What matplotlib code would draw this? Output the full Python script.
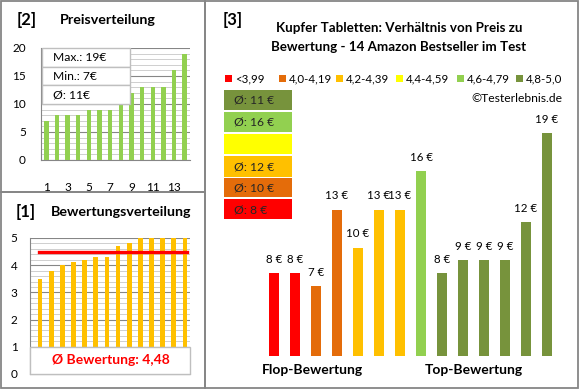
import numpy as np
import matplotlib
matplotlib.use("Agg")
import matplotlib.pyplot as plt
from matplotlib.patches import Rectangle

plt.rcParams['font.family'] = ['Lato', 'DejaVu Sans']

### DATA
# prices / ratings of the 14 products, in the order of chart [3]
prices = [8, 8, 7, 13, 10, 13, 13, 16, 8, 9, 9, 9, 12, 19]
ratings = [3.5, 3.8, 4.0, 4.1, 4.2, 4.3, 4.3, 4.7, 4.8, 5.0, 5.0, 5.0, 5.0, 5.0]
price_sorted = sorted(prices)
rating_sorted = sorted(ratings)
avg_rating_label = "4,48"

bin_labels = ["<3,99", "4,0-4,19", "4,2-4,39", "4,4-4,59", "4,6-4,79", "4,8-5,0"]
bin_edges = [0, 4.0, 4.2, 4.4, 4.6, 4.8, 5.01]
bin_colors = ["#FF0000", "#E46C0A", "#FFC000", "#FFFF00", "#92D050", "#77933C"]
x_ticks_price = [1, 3, 5, 7, 9, 11, 13]

W, H = 580, 390
GRAY = "#868686"
LIGHT = "#C8C8C8"

fig = plt.figure(figsize=(W / 100, H / 100), dpi=100)


def ax_px(x0, y0, x1, y1):
    return fig.add_axes([x0 / W, 1 - y1 / H, (x1 - x0) / W, (y1 - y0) / H])


def box(x0, y0, x1, y1, fc="none", ec=GRAY, lw=1.0, z=2):
    fig.add_artist(Rectangle((x0 / W, 1 - y1 / H), (x1 - x0) / W, (y1 - y0) / H,
                             transform=fig.transFigure, facecolor=fc, edgecolor=ec,
                             linewidth=lw, zorder=z))


def txt(x, y, s, **kw):
    kw.setdefault("zorder", 5)
    fig.text(x / W, 1 - y / H, s, **kw)


# panel borders
box(1, 1, 205, 192, lw=1.3)
box(1, 192, 205, 388, lw=1.3)
box(205, 1, 578, 388, lw=1.3)

### [2] Preisverteilung
ax1 = ax_px(41, 48, 190, 160)
ax1.bar(range(len(price_sorted)), price_sorted, width=0.42, color="#92D050", zorder=3)
ax1.set_xlim(-0.5, 13.5)
ax1.set_ylim(0, 20)
ax1.set_yticks([0, 5, 10, 15, 20])
ax1.set_yticks(np.arange(0, 21, 1), minor=True)
ax1.grid(axis="y", which="major", color=GRAY, lw=0.8, zorder=0)
ax1.grid(axis="y", which="minor", color=LIGHT, lw=0.6, zorder=0)
ax1.set_xticks([t - 1 for t in x_ticks_price])
ax1.set_xticklabels([str(t) for t in x_ticks_price])
ax1.tick_params(axis="x", length=0, pad=16, labelsize=8.5)
ax1.tick_params(axis="y", which="both", length=0, pad=11, labelsize=8.5)
for s in ["top", "right"]:
    ax1.spines[s].set_visible(False)
for s in ["left", "bottom"]:
    ax1.spines[s].set_color(GRAY)

txt(27, 20, "[2]", fontsize=12, fontweight="bold", ha="center", va="center")
txt(108, 20, "Preisverteilung", fontsize=10.3, fontweight="bold", ha="center", va="center")

rows = ["Max.: %d€" % max(prices), "Min.: %d€" % min(prices),
        "Ø: %d€" % round(np.mean(prices))]
for i, r in enumerate(rows):
    y0 = 48 + i * 18.7
    box(42, y0, 130, y0 + 18.7, fc="white", ec="#BFBFBF", lw=1.0, z=4)
    txt(53, y0 + 9.5, r, fontsize=8.7, va="center")

### [1] Bewertungsverteilung
ax2 = ax_px(30, 238, 190, 374)
ax2.bar(range(len(rating_sorted)), rating_sorted, width=0.42, color="#FFC000", zorder=3)
ax2.set_xlim(-0.9, 13.45)
ax2.set_ylim(0, 5)
ax2.set_yticks(range(6))
ax2.set_yticks(np.arange(0, 5.01, 0.2), minor=True)
ax2.grid(axis="y", which="major", color=GRAY, lw=0.8, zorder=0)
ax2.grid(axis="y", which="minor", color=LIGHT, lw=0.6, zorder=0)
ax2.set_xticks([])
ax2.tick_params(axis="y", which="both", length=0, pad=9, labelsize=8.5)
for s in ["top", "right"]:
    ax2.spines[s].set_visible(False)
for s in ["left", "bottom"]:
    ax2.spines[s].set_color(GRAY)
ax2.plot([-0.1, 13.2], [np.mean(ratings)] * 2, color="#FF0000", lw=2.4, zorder=4)
ax2.add_patch(Rectangle((-0.9, 0), 14.35, 1, facecolor="white", edgecolor="#BFBFBF",
                        lw=1.0, zorder=5, clip_on=False))
ax2.text(6.35, 0.5, "Ø Bewertung: " + avg_rating_label, color="#FF0000", fontsize=10,
         fontweight="bold", ha="center", va="center", zorder=6)

txt(26, 212, "[1]", fontsize=12, fontweight="bold", ha="center", va="center")
txt(121, 212, "Bewertungsverteilung", fontsize=10.3, fontweight="bold", ha="center", va="center")

### [3] Preis zu Bewertung
bins = np.digitize(ratings, bin_edges) - 1
bar_colors = [bin_colors[b] for b in bins]

x0p, x1p, y0p, y1p = 215, 570, 110, 356
ax3 = ax_px(x0p, y0p, x1p, y1p)
ax3.bar(range(len(prices)), prices, width=0.43, color=bar_colors, zorder=3)
ax3.set_xlim((x0p - 274) / 21, (x1p - 274) / 21)
ax3.set_ylim((375 - y1p) / 12.73, (375 - y0p) / 12.73)
ax3.axis("off")
for i, p in enumerate(prices):
    ax3.annotate("%d €" % p, (i, p), xytext=(0, 10), textcoords="offset points",
                 ha="center", va="center", fontsize=8.3)

txt(233, 20, "[3]", fontsize=12, fontweight="bold", ha="center", va="center")
txt(399, 28, "Kupfer Tabletten: Verhältnis von Preis zu", fontsize=9.6,
    fontweight="bold", ha="center", va="center")
txt(399, 47, "Bewertung - 14 Amazon Bestseller im Test", fontsize=9.6,
    fontweight="bold", ha="center", va="center")

# legend row
leg_x = [225, 279, 336, 396, 457, 516]
for lx, lab, c in zip(leg_x, bin_labels, bin_colors):
    box(lx, 75, lx + 7, 82, fc=c, ec="none", lw=0, z=4)
    txt(lx + 10, 78.5, lab, fontsize=8.3, va="center")
txt(562, 98, "©Testerlebnis.de", fontsize=8.7, ha="right", va="center")

# average price per rating class
box_rows = [(90, 110), (112, 132), (134, 154), (156, 177), (178, 197), (199, 219)]
for (by0, by1), k in zip(box_rows, [5, 4, 3, 2, 1, 0]):
    box(224, by0, 292, by1, fc=bin_colors[k], ec="none", lw=0, z=4)
    sel = [p for p, b in zip(prices, bins) if b == k]
    if sel:
        txt(234, (by0 + by1) / 2 + 0.5, "Ø: %d €" % round(np.mean(sel)), fontsize=8.7,
            va="center", color="#262626")

txt(312, 370, "Flop-Bewertung", fontsize=10, fontweight="bold", ha="center", va="center")
txt(474, 370, "Top-Bewertung", fontsize=10, fontweight="bold", ha="center", va="center")

fig.savefig("out.png", dpi=100)
